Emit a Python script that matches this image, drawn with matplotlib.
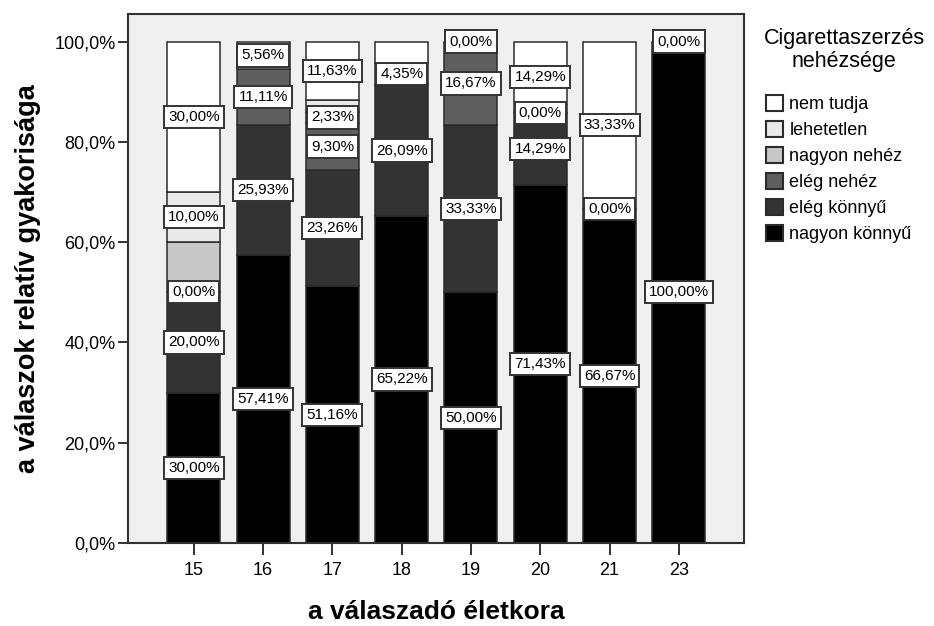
import numpy as np
import matplotlib
matplotlib.use("Agg")
import matplotlib.pyplot as plt
from matplotlib.patches import Patch
from matplotlib.ticker import FuncFormatter

plt.rcParams['font.family'] = ['Liberation Sans', 'DejaVu Sans']

# age groups on the x axis
ages = ['15', '16', '17', '18', '19', '20', '21', '23']

# percentages per answer (nan = category not present for that age)
nan = np.nan
nagyon_konnyu = [30.00, 57.41, 51.16, 65.22, 50.00, 71.43, 66.67, 100.00]
eleg_konnyu = [20.00, 25.93, 23.26, 26.09, 33.33, 14.29, 0.00, 0.00]
eleg_nehez = [0.00, 11.11, 9.30, 4.35, 16.67, 0.00, nan, nan]
nagyon_nehez = [10.00, nan, 2.33, nan, 0.00, nan, nan, nan]
lehetetlen = [10.00, nan, 2.33, nan, nan, nan, nan, nan]
nem_tudja = [30.00, 5.56, 11.63, 4.35, nan, 14.29, 33.33, nan]

series_names = ['nagyon könnyű', 'elég könnyű', 'elég nehéz',
                'nagyon nehéz', 'lehetetlen', 'nem tudja']
series_values = [nagyon_konnyu, eleg_konnyu, eleg_nehez,
                 nagyon_nehez, lehetetlen, nem_tudja]
series_colors = ['#000000', '#333333', '#5f5f5f', '#c8c8c8', '#e9e9e9', '#ffffff']

edge = '#2b2b2b'

fig = plt.figure(figsize=(9.34, 6.26), dpi=100)
ax = fig.add_axes([0.137, 0.1326, 0.6596, 0.845])
ax.set_facecolor('#f0f0f0')

x = np.arange(len(ages))
width = 0.765
bottom = np.zeros(len(ages))
label_pos = [[] for _ in ages]

for name, vals, col in zip(series_names, series_values, series_colors):
    v = np.array(vals, dtype=float)
    h = np.nan_to_num(v)
    ax.bar(x, h, width, bottom=bottom, color=col, edgecolor=edge,
           linewidth=1.1, zorder=2)
    for i in range(len(ages)):
        if not np.isnan(v[i]):
            label_pos[i].append((bottom[i] + h[i] / 2, v[i]))
    bottom = bottom + h

# value labels, hiding ones that would overlap the previous label
for i, items in enumerate(label_pos):
    last = None
    for y, val in items:
        if last is not None and abs(y - last) < 5.5:
            continue
        txt = f"{val:.2f}".replace('.', ',') + '%'
        ax.text(x[i], y, txt, ha='center', va='center', fontsize=11,
                zorder=5,
                bbox=dict(boxstyle='square,pad=0.27', fc='white',
                          ec='#333333', lw=1.4))
        last = y

ax.set_xlim(-0.95, 7.94)
ax.set_ylim(0, 105.5)
ax.set_xticks(x)
ax.set_xticklabels(ages, fontsize=13)
ax.set_yticks([0, 20, 40, 60, 80, 100])
ax.yaxis.set_major_formatter(
    FuncFormatter(lambda v, p: f"{v:.1f}".replace('.', ',') + '%'))
ax.tick_params(axis='y', labelsize=13, length=7, width=1.4,
               color='#333333', pad=2)
ax.tick_params(axis='x', length=8.5, width=1.4, color='#333333', pad=5.5)
for s in ax.spines.values():
    s.set_color('#333333')
    s.set_linewidth(1.5)

ax.set_xlabel('a válaszadó életkora', fontsize=19, fontweight='bold',
              va='center')
ax.xaxis.set_label_coords(0.5, (543 - 612) / 529)
ax.set_ylabel('a válaszok relatív gyakorisága', fontsize=19.5,
              fontweight='bold', va='center')
ax.yaxis.set_label_coords((28 - 128) / 616, 0.5)

# legend: title as separate text, entries below it
fig.text(844 / 934, 1 - 50 / 626, 'Cigarettaszerzés\nnehézsége',
         ha='center', va='center', fontsize=15.5, linespacing=1.15)
handles = [Patch(facecolor=c, edgecolor=edge, linewidth=1.5)
           for c in series_colors[::-1]]
leg = fig.legend(handles, series_names[::-1], loc='upper left',
                 bbox_to_anchor=(0.8124, 0.859), frameon=False,
                 fontsize=13, handlelength=0.95, handleheight=0.95,
                 handletextpad=0.35, labelspacing=0.44, borderaxespad=0)

fig.savefig('out.png', dpi=100)
